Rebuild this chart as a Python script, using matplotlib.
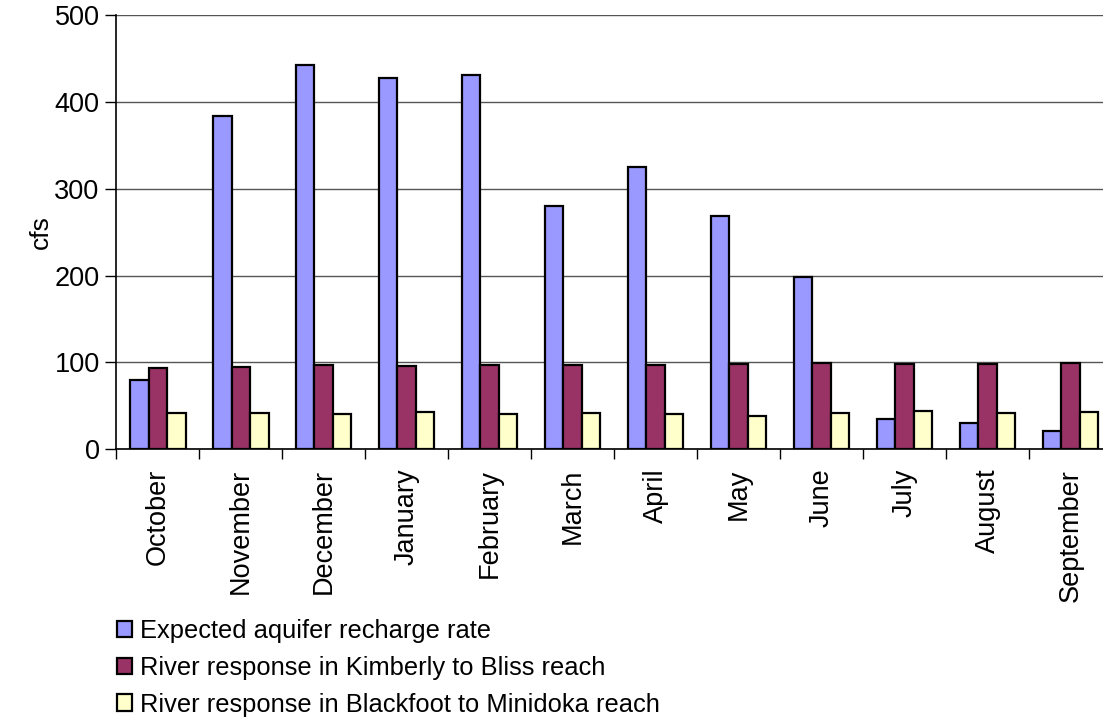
import matplotlib
matplotlib.use("Agg")
import matplotlib.pyplot as plt
import numpy as np

months = ["October", "November", "December", "January", "February", "March",
          "April", "May", "June", "July", "August", "September"]
recharge = [80, 384, 442, 427, 431, 280, 325, 269, 198, 35, 30, 21]
kimberly_bliss = [94, 95, 96.5, 96, 96.5, 96.5, 96.5, 98.5, 99, 98, 98, 99]
blackfoot_minidoka = [42, 41.5, 40.5, 43, 40.5, 42, 41, 38.5, 41.5, 44.5, 42, 43]
series_labels = ["Expected aquifer recharge rate",
                 "River response in Kimberly to Bliss reach",
                 "River response in Blackfoot to Minidoka reach"]
y_ticks = [0, 100, 200, 300, 400, 500]

colors = ["#9999FF", "#993366", "#FFFFCC"]

plt.rcParams["font.family"] = ["Liberation Sans", "DejaVu Sans"]

fig = plt.figure(figsize=(11.03, 7.28), dpi=100)
ax = fig.add_axes([116.3 / 1103, 1 - 449.3 / 728, (1112 - 116.3) / 1103, (449.3 - 15) / 728])

x = np.arange(len(months))
w = 0.223
for k, (vals, c, lab) in enumerate(zip([recharge, kimberly_bliss, blackfoot_minidoka], colors, series_labels)):
    ax.bar(x + (k - 1) * w, vals, width=w, color=c, edgecolor="black", linewidth=1.6,
           label=lab, zorder=3)

ax.set_xlim(-0.5, len(months) - 0.5)
ax.set_ylim(0, 500)
ax.set_yticks(y_ticks)
ax.set_yticklabels([str(v) for v in y_ticks], fontsize=19.5)
ax.yaxis.grid(True, color="#555555", linewidth=1.0, zorder=0)
ax.set_axisbelow(True)

# category boundaries carry the tick marks, centres carry the month names
ax.set_xticks(np.arange(len(months) + 1) - 0.5)
ax.set_xticklabels([])
ax.set_xticks(x, minor=True)
ax.set_xticklabels(months, minor=True, rotation=90, fontsize=19.5, va="top", ha="center")
ax.tick_params(axis="x", which="major", direction="out", length=7, width=1.0, color="black")
ax.tick_params(axis="x", which="minor", length=0, pad=14)
ax.tick_params(axis="y", direction="out", length=8, width=1.0, pad=4)

for s in ["top", "right"]:
    ax.spines[s].set_visible(False)
for s in ["left", "bottom"]:
    ax.spines[s].set_color("black")
    ax.spines[s].set_linewidth(1.2)

ax.set_ylabel("cfs", fontsize=19)
ax.yaxis.set_label_coords(-0.064, 0.5)

handles, labels = ax.get_legend_handles_labels()
fig.legend(handles, labels, loc="upper left", bbox_to_anchor=(117 / 1103, 1 - 619 / 728),
           frameon=False, fontsize=18.4, handlelength=0.6, handleheight=0.6,
           handletextpad=0.3, labelspacing=0.5, borderaxespad=0, borderpad=0)

fig.savefig("out.png", dpi=100)
